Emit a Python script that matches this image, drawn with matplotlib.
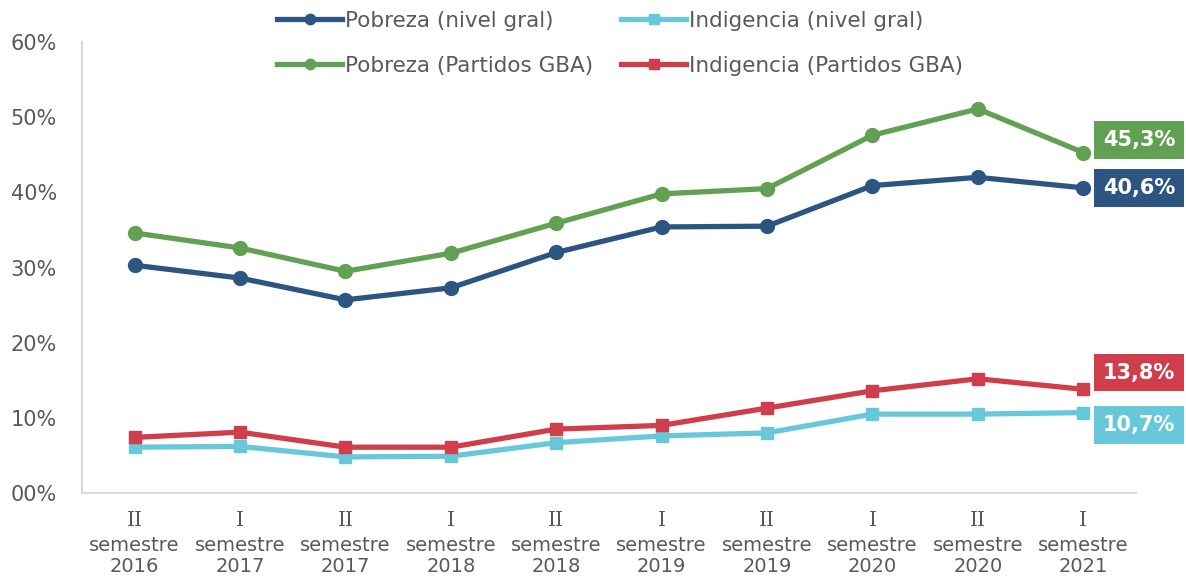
import matplotlib.pyplot as plt
from matplotlib.ticker import FuncFormatter

# periods (semester, year)
semestres = ["II", "I", "II", "I", "II", "I", "II", "I", "II", "I"]
anios = ["2016", "2017", "2017", "2018", "2018", "2019", "2019", "2020", "2020", "2021"]

# series (%)
pobreza_gral = [30.3, 28.6, 25.7, 27.3, 32.0, 35.4, 35.5, 40.9, 42.0, 40.6]
pobreza_gba = [34.6, 32.6, 29.5, 31.9, 35.9, 39.8, 40.5, 47.6, 51.1, 45.3]
indigencia_gral = [6.1, 6.2, 4.8, 4.9, 6.7, 7.6, 8.0, 10.5, 10.5, 10.7]
indigencia_gba = [7.4, 8.1, 6.1, 6.1, 8.5, 9.0, 11.3, 13.6, 15.2, 13.8]

c_blue = "#2C5681"
c_green = "#62A154"
c_cyan = "#68C8DA"
c_red = "#CF3E4A"
c_text = "#595959"
c_axis = "#D9D9D9"

fig = plt.figure(figsize=(11.86, 5.78), dpi=100)
ax = fig.add_axes([0.0691, 0.147, 0.8887, 0.7803])

x = list(range(len(anios)))
lw = 3.8
l1, = ax.plot(x, pobreza_gral, color=c_blue, lw=lw, marker="o", ms=10, label="Pobreza (nivel gral)")
l2, = ax.plot(x, pobreza_gba, color=c_green, lw=lw, marker="o", ms=10, label="Pobreza (Partidos GBA)")
l3, = ax.plot(x, indigencia_gral, color=c_cyan, lw=lw, marker="s", ms=9, label="Indigencia (nivel gral)")
l4, = ax.plot(x, indigencia_gba, color=c_red, lw=lw, marker="s", ms=9, label="Indigencia (Partidos GBA)")

ax.set_xlim(-0.5, len(x) - 0.5)
ax.set_ylim(0, 60)
ax.set_yticks(range(0, 61, 10))
ax.yaxis.set_major_formatter(FuncFormatter(lambda v, p: f"{int(v):02d}%"))

for s in ["top", "right"]:
    ax.spines[s].set_visible(False)
for s in ["left", "bottom"]:
    ax.spines[s].set_color(c_axis)
    ax.spines[s].set_linewidth(1.5)

ax.tick_params(axis="y", length=0, labelsize=15, labelcolor=c_text, pad=18)
ax.tick_params(axis="x", length=0, labelsize=14, labelcolor=c_text, pad=31)
ax.set_xticks(x)
ax.set_xticklabels([f"semestre\n{a}" for a in anios], linespacing=1.1)

# roman numerals above tick labels
for i, s in enumerate(semestres):
    ax.annotate(s, xy=(i, 0), xycoords=("data", "axes fraction"), xytext=(0, -19.5),
                textcoords="offset points", ha="center", va="center",
                fontsize=14.5, color=c_text, family="DejaVu Serif", annotation_clip=False)

# end labels
ends = [(pobreza_gba, c_green, 9), (pobreza_gral, c_blue, 0),
        (indigencia_gba, c_red, 12), (indigencia_gral, c_cyan, -9)]
for serie, col, dy in ends:
    v = serie[-1]
    ax.annotate(f"{v:.1f}%".replace(".", ","), xy=(x[-1], v), xytext=(14, dy),
                textcoords="offset points", ha="left", va="center",
                fontsize=15, fontweight="bold", color="white", annotation_clip=False,
                bbox=dict(boxstyle="square,pad=0.42", fc=col, ec="none"))

leg = fig.legend(handles=[l1, l2, l3, l4], ncol=2, loc="center",
                 bbox_to_anchor=(0.523, 0.925), frameon=False, fontsize=15.5,
                 handlelength=3.0, handletextpad=0.15, columnspacing=1.3,
                 labelspacing=1.15, markerscale=0.75)
for t in leg.get_texts():
    t.set_color(c_text)

fig.savefig("out.png", dpi=100)
